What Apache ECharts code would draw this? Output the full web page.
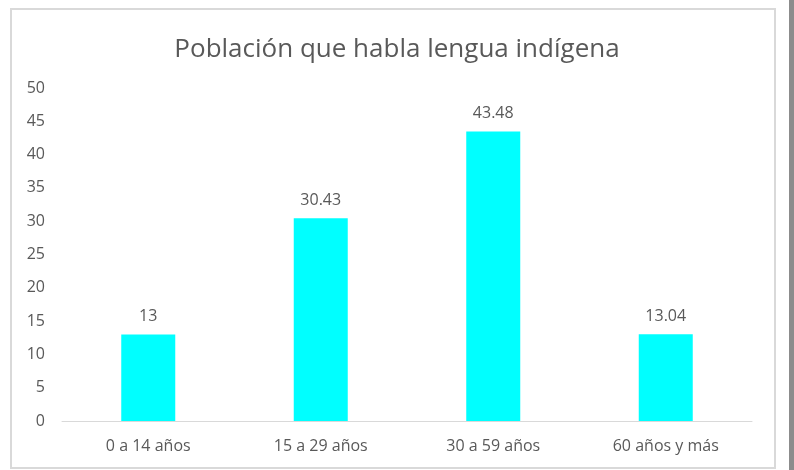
<!DOCTYPE html>
<html lang="es">
<head>
    <meta charset="UTF-8">
    <title>Población que habla lengua indígena</title>
    <script type="text/javascript" src="https://cdn.jsdelivr.net/npm/echarts@6/dist/echarts.min.js"></script>
    <style>
        body { margin: 0; background: #fff; }
        #chart { width: 794px; height: 470px; }
    </style>
</head>
<body>
<div id="chart"></div>
<script>
    var categories = ['0 a 14 años', '15 a 29 años', '30 a 59 años', '60 años y más'];
    var values = [13, 30.43, 43.48, 13.04];
    var yTicks = { min: 0, max: 50, interval: 5 };

    var chart = echarts.init(document.getElementById('chart'));
    var font = '"Open Sans", sans-serif';

    var option = {
        backgroundColor: '#fff',
        animation: false,
        graphic: [
            {
                type: 'rect',
                shape: { x: 11, y: 9, width: 764, height: 459 },
                style: { fill: 'none', stroke: '#d9d9d9', lineWidth: 2 }
            },
            {
                type: 'rect',
                shape: { x: 789, y: 0, width: 5, height: 470 },
                style: { fill: '#8c8c8c' }
            }
        ],
        title: {
            text: 'Población que habla lengua indígena',
            left: 'center',
            top: 32,
            textStyle: { fontFamily: font, fontSize: 26, fontWeight: 'normal', color: '#595959' }
        },
        grid: { left: 62, right: 42, top: 88, bottom: 49 },
        xAxis: {
            type: 'category',
            data: categories,
            axisLine: { lineStyle: { color: '#d9d9d9', width: 1 } },
            axisTick: { show: false },
            axisLabel: { fontFamily: font, fontSize: 16, color: '#595959', margin: 17 }
        },
        yAxis: {
            type: 'value',
            min: yTicks.min,
            max: yTicks.max,
            interval: yTicks.interval,
            splitLine: { show: false },
            axisLine: { show: false },
            axisTick: { show: false },
            axisLabel: { fontFamily: font, fontSize: 16, color: '#595959', margin: 17 }
        },
        series: [{
            type: 'bar',
            data: values,
            barWidth: 54,
            itemStyle: { color: '#00ffff' },
            label: {
                show: true,
                position: 'top',
                distance: 10,
                fontFamily: font,
                fontSize: 16,
                color: '#595959'
            }
        }]
    };
    chart.setOption(option);
</script>
</body>
</html>
